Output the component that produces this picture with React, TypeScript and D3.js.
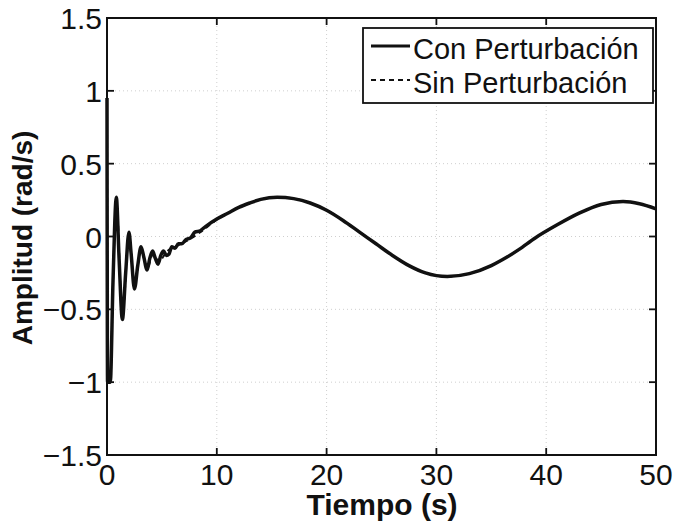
import React from "react";
import * as d3 from "d3";

// ---- data ----
const timeCon = [0, 0.05, 0.3, 0.55, 0.85, 1.1, 1.4, 1.7, 2.0, 2.2, 2.5, 2.8, 3.1, 3.35, 3.65, 3.9, 4.15, 4.4, 4.65, 4.9, 5.15, 5.4, 5.65, 5.9, 6.2, 6.5, 6.8, 7.2, 7.6, 8.0, 8.5, 9.0, 10, 11, 12, 13, 14, 15.5, 17, 18.5, 20, 21.5, 23, 24.5, 26, 27.5, 29, 31, 33, 35, 36, 37.5, 39, 41, 43, 45, 47, 48.5, 50];
const ampCon = [0.95, -1.0, -1.0, -0.3, 0.27, -0.15, -0.57, -0.25, 0.03, -0.12, -0.36, -0.2, -0.07, -0.14, -0.23, -0.15, -0.1, -0.15, -0.19, -0.13, -0.1, -0.13, -0.12, -0.07, -0.08, -0.05, -0.05, -0.02, -0.01, 0.03, 0.04, 0.07, 0.12, 0.16, 0.2, 0.23, 0.255, 0.27, 0.26, 0.23, 0.18, 0.11, 0.03, -0.05, -0.13, -0.2, -0.25, -0.275, -0.255, -0.2, -0.16, -0.09, -0.01, 0.08, 0.16, 0.22, 0.24, 0.225, 0.19];

const timeSin = [0, 0.05, 0.3, 0.55, 0.85, 1.4, 2.0, 2.5, 3.1, 3.65, 4.2, 4.7, 5.5, 6.5, 7.5, 8.5, 10, 11, 12, 13, 14, 15.5, 17, 18.5, 20, 21.5, 23, 24.5, 26, 27.5, 29, 31, 33, 35, 36, 37.5, 39, 41, 43, 45, 47, 48.5, 50];
const ampSin = [0.95, -1.0, -1.0, -0.3, 0.25, -0.55, 0.0, -0.33, -0.09, -0.22, -0.12, -0.17, -0.1, -0.06, -0.02, 0.03, 0.115, 0.16, 0.2, 0.23, 0.255, 0.27, 0.26, 0.23, 0.18, 0.11, 0.03, -0.05, -0.13, -0.2, -0.25, -0.275, -0.255, -0.2, -0.16, -0.09, -0.01, 0.08, 0.16, 0.22, 0.24, 0.225, 0.19];

const xTicks = [0, 10, 20, 30, 40, 50];
const yTicks = [-1.5, -1, -0.5, 0, 0.5, 1, 1.5];
const seriesNames = ["Con Perturbación", "Sin Perturbación"];
const xTitle = "Tiempo (s)";
const yTitle = "Amplitud (rad/s)";

const W = 675;
const H = 526;
const L = 107, R = 656, T = 18, B = 455;
const FONT = "'Liberation Sans', Arial, Helvetica, sans-serif";

const fmt = (v: number) => {
  const s = String(v);
  return s.startsWith("-") ? "\u2212" + s.slice(1) : s;
};

export default function App() {
  const x = d3.scaleLinear().domain([0, 50]).range([L, R]);
  const y = d3.scaleLinear().domain([-1.5, 1.5]).range([B, T]);

  const line = d3
    .line<[number, number]>()
    .x((d) => x(d[0]))
    .y((d) => y(d[1]))
    .curve(d3.curveMonotoneX);

  const conPts: [number, number][] = timeCon.map((t, i) => [t, ampCon[i]]);
  const sinPts: [number, number][] = timeSin.map((t, i) => [t, ampSin[i]]);

  const tick = 7;

  return (
    <svg
      width={W}
      height={H}
      style={{ position: "absolute", left: 0, top: 0, background: "#fff" }}
      fontFamily={FONT}
    >
      <rect x={0} y={0} width={W} height={H} fill="#fff" />
      {/* grid */}
      <g stroke="#cfcfcf" strokeWidth={1} strokeDasharray="1 3">
        {xTicks.slice(1, -1).map((t) => (
          <line key={"gx" + t} x1={x(t)} x2={x(t)} y1={T} y2={B} />
        ))}
        {yTicks.slice(1, -1).map((t) => (
          <line key={"gy" + t} x1={L} x2={R} y1={y(t)} y2={y(t)} />
        ))}
      </g>

      {/* series */}
      <path d={line(sinPts) || ""} fill="none" stroke="#111" strokeWidth={2} strokeDasharray="5 4" />
      <path d={line(conPts) || ""} fill="none" stroke="#111" strokeWidth={3.5} strokeLinejoin="round" />

      {/* box */}
      <rect x={L} y={T} width={R - L} height={B - T} fill="none" stroke="#111" strokeWidth={2} />
      {/* ticks */}
      <g stroke="#111" strokeWidth={1.8}>
        {xTicks.map((t) => (
          <g key={"tx" + t}>
            <line x1={x(t)} x2={x(t)} y1={B} y2={B - tick} />
            <line x1={x(t)} x2={x(t)} y1={T} y2={T + tick} />
          </g>
        ))}
        {yTicks.map((t) => (
          <g key={"ty" + t}>
            <line x1={L} x2={L + tick} y1={y(t)} y2={y(t)} />
            <line x1={R} x2={R - tick} y1={y(t)} y2={y(t)} />
          </g>
        ))}
      </g>

      {/* tick labels */}
      <g fontSize={30} fill="#111">
        {xTicks.map((t) => (
          <text key={"lx" + t} x={x(t)} y={485} textAnchor="middle">
            {fmt(t)}
          </text>
        ))}
        {yTicks.map((t) => (
          <text key={"ly" + t} x={102} y={y(t) + 11} textAnchor="end">
            {fmt(t)}
          </text>
        ))}
      </g>

      {/* axis titles */}
      <text x={382} y={515} textAnchor="middle" fontSize={30} fontWeight="bold" fill="#111">
        {xTitle}
      </text>
      <text
        transform={`translate(32, 238) rotate(-90)`}
        textAnchor="middle"
        fontSize={28}
        fontWeight="bold"
        fill="#111"
      >
        {yTitle}
      </text>

      {/* legend */}
      <g>
        <rect x={363} y={28} width={290} height={75} fill="#fff" stroke="#111" strokeWidth={1.8} />
        <line x1={371} x2={410} y1={46} y2={46} stroke="#111" strokeWidth={3.2} />
        <line x1={371} x2={410} y1={80} y2={80} stroke="#111" strokeWidth={2} strokeDasharray="5 4" />
        <text x={413} y={59} fontSize={29} fill="#111">
          {seriesNames[0]}
        </text>
        <text x={413} y={93} fontSize={29} fill="#111">
          {seriesNames[1]}
        </text>
      </g>
    </svg>
  );
}
